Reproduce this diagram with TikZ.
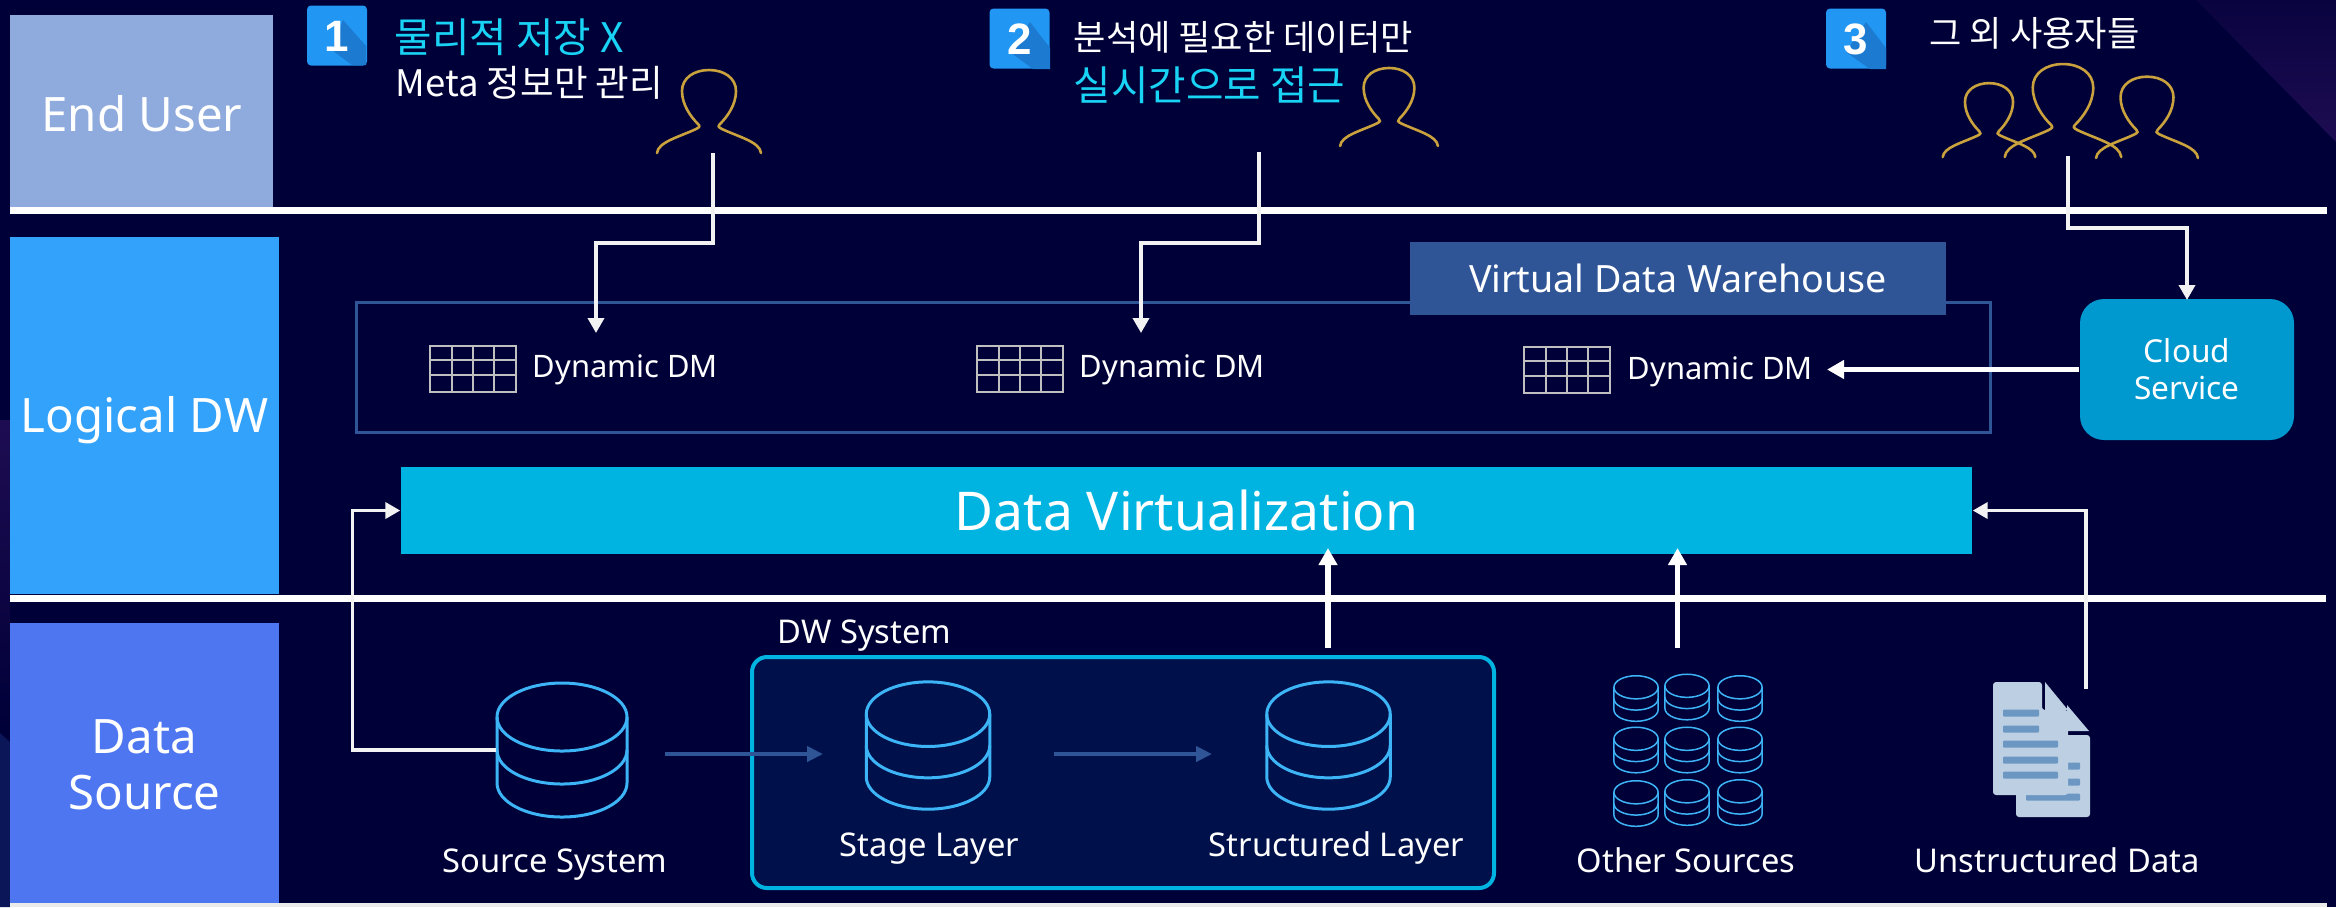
\documentclass[tikz,border=0pt]{standalone}
\usepackage{fontspec}
\setmainfont{Noto Sans}
\newfontfamily\krfont{Noto Sans CJK KR}
\newfontfamily\digitfont{Liberation Sans}
\usetikzlibrary{arrows.meta}

\definecolor{bgnavy}{HTML}{000038}
\definecolor{bandA}{HTML}{8FAADC}
\definecolor{bandB}{HTML}{33A2FA}
\definecolor{bandC}{HTML}{4D76F0}
\definecolor{framecol}{HTML}{2F5597}
\definecolor{virtcol}{HTML}{00B4E2}
\definecolor{cloudcol}{HTML}{0099CF}
\definecolor{goldcol}{HTML}{C9A23E}
\definecolor{dbcol}{HTML}{3DB4F6}
\definecolor{cyantext}{HTML}{19D3F5}
\definecolor{badgecol}{HTML}{2196F3}
\definecolor{badgedark}{HTML}{1C7BD0}
\definecolor{paper}{HTML}{BDD0E3}
\definecolor{paperbar}{HTML}{6C97C2}
\definecolor{dwfill}{HTML}{00104A}
\definecolor{cornerpurple}{HTML}{1E0C52}
\definecolor{cornerblue}{HTML}{0A1658}

\newcommand{\dbwidth}{0.3mm}

\tikzset{
    band/.style={inner sep=0pt},
    bandtext/.style={inner sep=0pt, text=white, align=center, font=\fontsize{13.5}{15.9}\selectfont},
    divider/.style={white, line width=0.7mm},
    link/.style={draw=white!95!black, line width=0.36mm, -{Triangle[width=1.6mm,length=1.5mm]}},
    fatlink/.style={draw=white, line width=0.55mm, -{Triangle[width=1.8mm,length=1.7mm]}},
    flowlink/.style={draw=framecol, line width=0.42mm, -{Triangle[width=1.5mm,length=1.6mm]}},
    dmtext/.style={anchor=base west, inner sep=0pt, text=white, font=\fontsize{8.8}{11}\selectfont},
    dbtext/.style={anchor=base, inner sep=0pt, text=white, font=\fontsize{9.3}{11}\selectfont},
    krtext/.style={anchor=base west, inner sep=0pt, text=white, font=\krfont\fontsize{10}{12}\selectfont},
    krbig/.style={krtext, text=cyantext, font=\krfont\fontsize{11.6}{14}\selectfont},
    badge/.style={fill=badgecol, rounded corners=0.4mm, inner sep=0pt, minimum width=6mm, minimum height=6mm},
    digit/.style={inner sep=0pt, text=white, font=\digitfont\fontsize{12.5}{14}\selectfont\bfseries},
    dbnode/.style={inner sep=0pt, minimum width=#1, minimum height=#1},
    person/.pic={
        \draw[goldcol, line width=0.26mm, line cap=round] (-52,0) .. controls (-51,-11) and (-30,-16) .. (-13,-24)
            .. controls (-9,-26) and (-9,-27) .. (-11,-29)
            .. controls (-18,-36) and (-27,-48) .. (-27,-62)
            .. controls (-27,-75) and (-15,-83) .. (0,-83)
            .. controls (15,-83) and (27,-75) .. (27,-62)
            .. controls (27,-48) and (18,-36) .. (11,-29)
            .. controls (9,-27) and (9,-26) .. (13,-24)
            .. controls (30,-16) and (51,-11) .. (52,0);
    },
    dbicon/.pic={
        \draw[dbcol, line width=\dbwidth] (0,-33) ellipse (65 and 34);
        \draw[dbcol, line width=\dbwidth] (65,0) arc (0:180:65 and 34);
        \draw[dbcol, line width=\dbwidth] (65,-33) -- (65,33) arc (0:180:65 and 34) -- (-65,-33);
    },
    tableicon/.pic={
        \draw[white!75!black, line width=0.15mm] (0,0) rectangle (86,46);
        \draw[white!75!black, line width=0.15mm] (22,0) -- (22,46) (43,0) -- (43,46) (64,0) -- (64,46);
        \draw[white!75!black, line width=0.15mm] (0,14) -- (86,14) (0,29) -- (86,29);
    },
}

\begin{document}
\begin{tikzpicture}[x=0.1mm, y=-0.1mm]
    \fill[bgnavy] (0,0) rectangle (2336,907);
    \useasboundingbox (0,0) rectangle (2336,907);

    % corners of the backdrop
    \shade[top color=bgnavy!70!cornerpurple, bottom color=cornerpurple] (2196,0) -- (2336,142) -- (2336,0) -- cycle;
    \shade[top color=cornerpurple, bottom color=bgnavy] (0,420) rectangle (10,730);
    \fill[cornerblue] (0,733) -- (10,742) -- (10,907) -- (0,907) -- cycle;

    % bands on the left
    \node[band, fill=bandA, minimum width=26.3mm, minimum height=19.2mm] (endUser) at (141.5,111) {};
    \node[band, fill=bandB, minimum width=26.9mm, minimum height=35.7mm] (logicalDw) at (144.5,415.5) {};
    \node[band, fill=bandC, minimum width=26.9mm, minimum height=28mm] (dataSource) at (144.5,763) {};
    \node[bandtext] (endUserText) at (142,113.5) {End User};
    \node[bandtext] (logicalDwText) at (144.5,420.5) {Logical DW};
    \node[bandtext] (dataSourceText) at (144.5,765) {Data\\Source};

    \draw[divider] (10,210.5) -- (2327,210.5);
    \draw[divider] (10,598) -- (2326,598);
    \fill[white!92!black] (10,903) rectangle (2327,907);

    % numbered notes
    \node[badge] (badgeA) at (337,35.5) {};
    \fill[badgedark] (343,20) -- (366,46) -- (366,65) -- (352,65) -- (332,50) -- cycle;
    \node[digit] (digitA) at (337,36) {1};
    \node[badge] (badgeB) at (1019.5,38.5) {};
    \fill[badgedark] (1030,22) -- (1050,48) -- (1050,69) -- (1033,69) -- (1010,52) -- cycle;
    \node[digit] (digitB) at (1019.5,39) {2};
    \node[badge] (badgeC) at (1856,38.5) {};
    \fill[badgedark] (1866,22) -- (1886,48) -- (1886,69) -- (1870,69) -- (1846,52) -- cycle;
    \node[digit] (digitC) at (1856,39) {3};

    \node[krbig] (noteAa) at (394,52) {물리적 저장 X};
    \node[krtext, font=\krfont\fontsize{10.4}{12}\selectfont] (noteAb) at (395,96) {Meta 정보만 관리};
    \node[krtext] (noteBa) at (1073,50) {분석에 필요한 데이터만};
    \node[krbig] (noteBb) at (1073,100) {실시간으로 접근};
    \node[krtext] (noteC) at (1929,46) {그 외 사용자들};

    % users
    \pic at (709,153) {person};
    \pic[scale=0.94] at (1389,146) {person};
    \pic[scale=0.89] at (1989,157) {person};
    \pic[scale=1.12] at (2063,157) {person};
    \pic[scale=0.98] at (2147,158) {person};

    % virtual warehouse
    \draw[framecol, line width=0.3mm] (356,302) rectangle (1990,432);
    \node[fill=framecol, inner sep=0pt, minimum width=53.6mm, minimum height=7.3mm, text=white, font=\fontsize{10.7}{12}\selectfont] (vdw) at (1678,278.5) {Virtual Data Warehouse};

    \pic at (430,346) {tableicon};
    \pic at (977,346) {tableicon};
    \pic at (1524,347) {tableicon};
    \node[dmtext] (dmA) at (532,377) {Dynamic DM};
    \node[dmtext] (dmB) at (1079,377) {Dynamic DM};
    \node[dmtext] (dmC) at (1627,379) {Dynamic DM};

    \node[fill=cloudcol, rounded corners=2.4mm, inner sep=0pt, minimum width=21.4mm, minimum height=14.1mm, align=center, text=white, font=\fontsize{9}{10.5}\selectfont] (cloud) at (2187,369.5) {Cloud\\Service};
    \node[fill=virtcol, inner sep=0pt, minimum width=157.1mm, minimum height=8.7mm, text=white, font=\fontsize{15.2}{17}\selectfont] (virt) at (1186.5,510.5) {Data Virtualization};

    % DW system
    \node[dbtext, anchor=base west] (dwLabel) at (777,643) {DW System};
    \node[draw=virtcol, fill=dwfill, line width=0.4mm, rounded corners=1.5mm, inner sep=0pt, minimum width=74.2mm, minimum height=23.1mm] (dwBox) at (1123,772.5) {};

    \node[dbnode=13mm] (source) at (562,750) {};
    \pic at (source) {dbicon};
    \node[dbnode=12.4mm] (stage) at (928,745.5) {};
    \pic[scale=0.95] at (stage) {dbicon};
    \node[dbnode=12.4mm] (structured) at (1328.5,745.5) {};
    \pic[scale=0.95] at (structured) {dbicon};

    \node[dbtext] (sourceText) at (555,872) {Source System};
    \node[dbtext] (stageText) at (929.5,856) {Stage Layer};
    \node[dbtext] (structuredText) at (1336.5,856) {Structured Layer};
    \node[dbtext] (otherText) at (1686,872) {Other Sources};
    \node[dbtext] (unstructText) at (2057,872) {Unstructured Data};

    % other sources
    \renewcommand{\dbwidth}{0.15mm}
    \pic[scale=0.34] at (1636,698.5) {dbicon};
    \pic[scale=0.34] at (1687,697) {dbicon};
    \pic[scale=0.34] at (1740,698.5) {dbicon};
    \pic[scale=0.34] at (1636,750) {dbicon};
    \pic[scale=0.34] at (1687,750) {dbicon};
    \pic[scale=0.34] at (1740,750) {dbicon};
    \pic[scale=0.34] at (1636,803.5) {dbicon};
    \pic[scale=0.34] at (1687,802.5) {dbicon};
    \pic[scale=0.34] at (1740,802.5) {dbicon};

    % documents
    \fill[paper, rounded corners=0.3mm] (2016,735) rectangle (2090,817);
    \fill[paper] (2067,705) -- (2089,731) -- (2067,731) -- cycle;
    \fill[paperbar, rounded corners=0.1mm] (2050,762.5) rectangle (2080,769.5);
    \fill[paperbar, rounded corners=0.1mm] (2050,778.5) rectangle (2080,785.5);
    \fill[paperbar, rounded corners=0.1mm] (2026,793.5) rectangle (2080,800.5);
    \fill[paper, rounded corners=0.3mm] (2042,682) -- (1993,682) -- (1993,795) -- (2068,795) -- (2068,710) -- (2042,710) -- cycle;
    \fill[paper] (2045,682) -- (2068,710) -- (2045,710) -- cycle;
    \fill[paperbar, rounded corners=0.1mm] (2003,709.5) rectangle (2039,716.5);
    \fill[paperbar, rounded corners=0.1mm] (2003,725.5) rectangle (2039,732.5);
    \fill[paperbar, rounded corners=0.1mm] (2003,740.5) rectangle (2058,747.5);
    \fill[paperbar, rounded corners=0.1mm] (2003,756.5) rectangle (2058,763.5);
    \fill[paperbar, rounded corners=0.1mm] (2003,771.5) rectangle (2058,778.5);

    % connectors
    \coordinate (userA) at (713,153);
    \coordinate (userB) at (1259,152);
    \coordinate (userC) at (2068,156);
    \coordinate (tipA) at (596,333);
    \coordinate (tipB) at (1141,333);
    \coordinate (tipC) at (2187,300);
    \coordinate (cloudTip) at (1827,369.5);
    \coordinate (docTop) at (2086,689);
    \coordinate (structUp) at (1328,648);
    \coordinate (otherUp) at (1677.5,648);
    \coordinate (flowA) at (665,754);
    \coordinate (flowAend) at (823,754);
    \coordinate (flowB) at (1054,754);
    \coordinate (flowBend) at (1212,754);

    \draw[link] (userA) -- ++(0,90) -| (tipA);
    \draw[link] (userB) -- ++(0,91) -| (tipB);
    \draw[link] (userC) -- ++(0,72) -| (tipC);
    \draw[fatlink] (cloud.west) -- (cloudTip);
    \draw[link] (source.west) -- ++(-144,0) |- (virt.west);
    \draw[link] (docTop) |- (virt.east);
    \draw[fatlink] (structUp) -- ++(0,-100);
    \draw[fatlink] (otherUp) -- ++(0,-100);
    \draw[flowlink] (flowA) -- (flowAend);
    \draw[flowlink] (flowB) -- (flowBend);
\end{tikzpicture}
\end{document}
